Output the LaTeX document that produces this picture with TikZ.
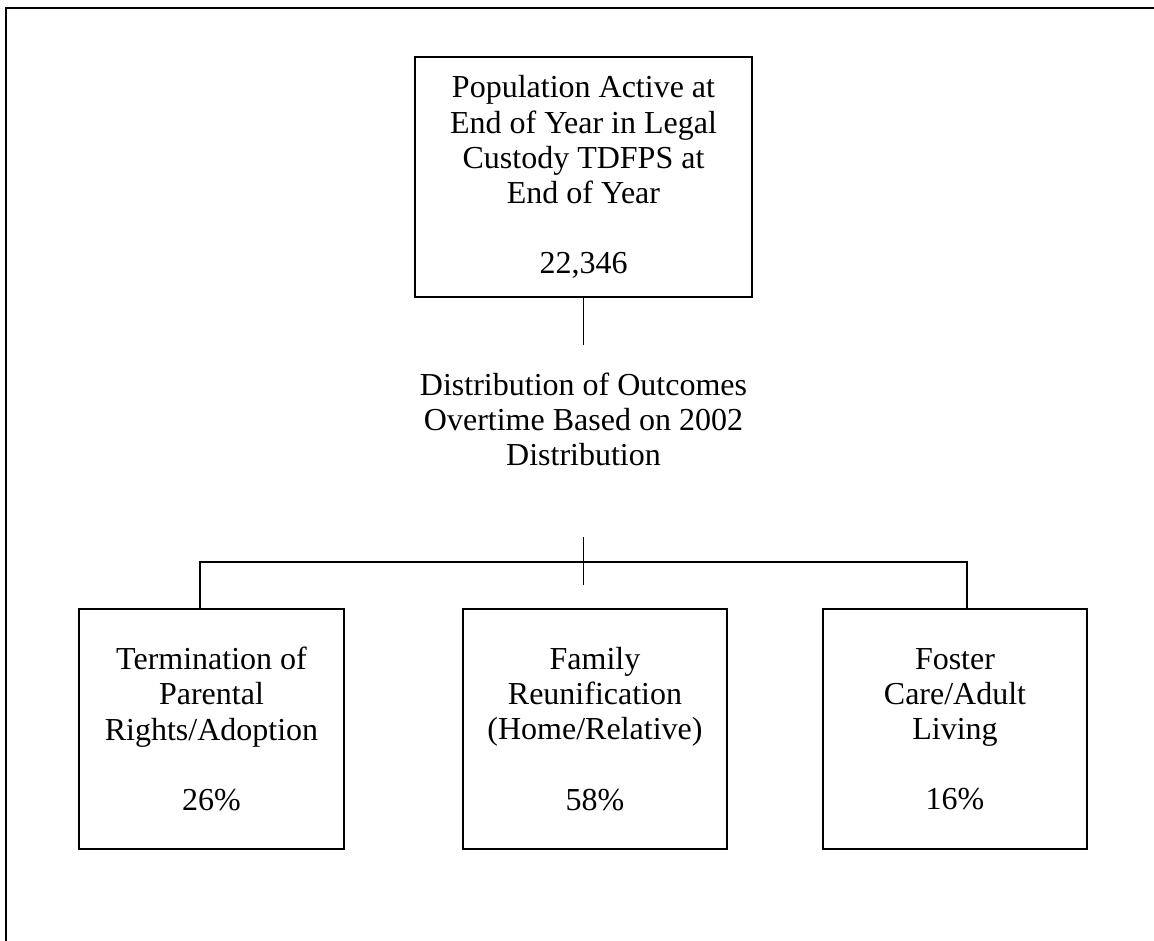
\documentclass[tikz,border=0pt]{standalone}
\usepackage{fontspec}
\setmainfont{Liberation Serif}
\begin{document}
\begin{tikzpicture}[x=0.75pt,y=-0.75pt,
  box/.style={draw,line width=1.3pt,align=center,inner sep=0pt,font=\fontsize{24}{26.3}\selectfont},
  lbl/.style={align=center,inner sep=0pt,font=\fontsize{24}{26.3}\selectfont},
  conn/.style={line width=1.3pt}]
\useasboundingbox (0,0) rectangle (1154,941);
% outer frame (left and top edges)
\coordinate (fbl) at (6,941);
\coordinate (ftl) at (6,8);
\coordinate (ftr) at (1154,8);
\draw[line width=1.8pt] (fbl) -- (ftl) -- (ftr);
% top box
\node[box,minimum width=337*0.75pt,minimum height=240*0.75pt] (top) at (583.5,177)
  {Population Active at\\End of Year in Legal\\Custody TDFPS at\\End of Year\\[26.3pt]22,346};
\coordinate (t1) at (583.5,345);
\draw[conn] (top.south) -- (t1);
% middle label
\node[lbl] (dist) at (583.5,419) {Distribution of Outcomes\\Overtime Based on 2002\\Distribution};
% branching
\coordinate (m1) at (583.5,537);
\coordinate (m2) at (583.5,585);
\draw[conn] (m1) -- (m2);
\node[box,minimum width=265*0.75pt,minimum height=240*0.75pt] (b1) at (211.5,729)
  {Termination of\\Parental\\Rights/Adoption\\[26.3pt]26\%};
\node[box,minimum width=264*0.75pt,minimum height=240*0.75pt] (b2) at (595,729)
  {Family\\Reunification\\(Home/Relative)\\[26.3pt]58\%};
\node[box,minimum width=264*0.75pt,minimum height=240*0.75pt] (b3) at (955,729)
  {Foster\\Care/Adult\\Living\\[26.3pt]16\%};
\coordinate (hl) at (200,562);
\coordinate (hr) at (967,562);
\draw[conn] (hl |- b1.north) -- (hl) -- (hr) -- (hr |- b3.north);
\end{tikzpicture}
\end{document}
